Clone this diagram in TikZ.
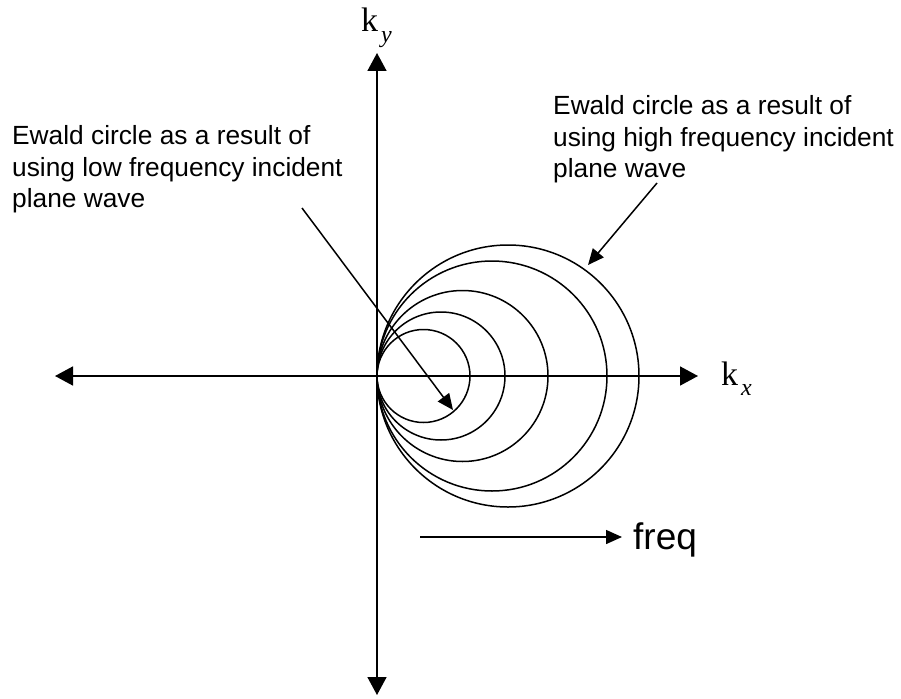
\documentclass[tikz,border=0pt]{standalone}
\usepackage{fontspec}
\setmainfont{Liberation Sans}
\newfontfamily\serifk{Liberation Serif}
\usetikzlibrary{arrows.meta}

\begin{document}
\begin{tikzpicture}[x=1pt, y=1pt,
  axe/.style={line width=1.6pt,
              {Triangle[length=18pt,width=19pt]}-{Triangle[length=18pt,width=19pt]}},
  fleche/.style={-{Triangle[length=16pt,width=14pt]}, line width=1.5pt},
  ewald/.style={line width=1.5pt},
  legende/.style={inner sep=0pt, align=left, anchor=north west,
                  font=\fontsize{26.3}{31.8}\selectfont},
  etiq/.style={inner sep=0pt, anchor=base west,
               font=\serifk\fontsize{34}{34}\selectfont}]

  \useasboundingbox (0,0) rectangle (901,-698);

  % axes
  \coordinate (O) at (377,-376);
  \coordinate (gauche) at (55,-376);
  \coordinate (droite) at (698,-376);
  \coordinate (haut) at (377,-53);
  \coordinate (bas) at (377,-695);
  \draw[axe] (gauche)--(droite);
  \draw[axe] (bas)--(haut);

  \node[etiq] (ky) at (361,-32)
    {k\hspace{3pt}\raisebox{-11pt}{\fontsize{24}{24}\selectfont\itshape y}};
  \node[etiq] (kx) at (721,-385)
    {k\hspace{3pt}\raisebox{-10pt}{\fontsize{24}{24}\selectfont\itshape x}};

  % cercles d'Ewald
  \foreach \r in {46.5,64,85.5,115,131}
    \draw[ewald] (O) ++(\r,0) circle (\r);

  % legendes
  \node[legende] (basse) at (12,-125)
    {Ewald circle as a result of\\using low frequency incident\\plane wave};
  \node[legende] (haute) at (553,-95)
    {Ewald circle as a result of\\using high frequency incident\\plane wave};

  \coordinate (departB) at (302,-208);
  \coordinate (pointeB) at (453,-410);
  \coordinate (departH) at (657,-183);
  \coordinate (pointeH) at (588,-265);
  \draw[fleche] (departB)--(pointeB);
  \draw[fleche] (departH)--(pointeH);

  % frequence
  \node[inner sep=0pt, anchor=base west, font=\fontsize{37}{37}\selectfont]
    (freq) at (633,-549) {freq};
  \coordinate (freqDebut) at (420,-537);
  \coordinate (freqFin) at (622,-537);
  \draw[fleche] (freqDebut)--(freqFin);
\end{tikzpicture}
\end{document}
